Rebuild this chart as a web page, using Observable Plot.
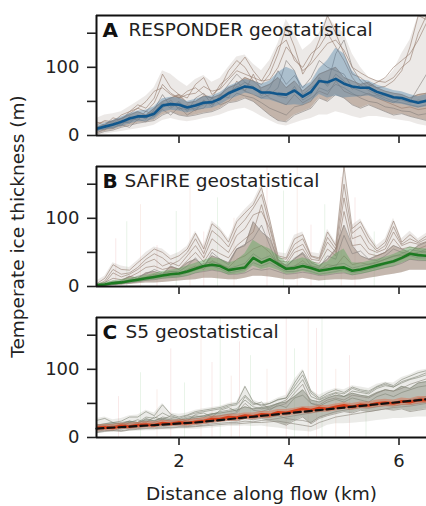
<!DOCTYPE html>
<html><head><meta charset="utf-8">
<script src="https://cdn.jsdelivr.net/npm/d3@7"></script>
<script src="https://cdn.jsdelivr.net/npm/@observablehq/plot@0.6"></script>
<style>
body{margin:0;background:#fff;font-family:"DejaVu Sans",sans-serif;}
#c svg{display:block;overflow:visible;background:none !important;}
</style>
</head><body><div id="c"></div>
<script>
// distance along flow (km)
const dist = [0.5,0.65,0.8,0.95,1.1,1.25,1.4,1.55,1.7,1.85,2.0,2.15,2.3,2.45,2.6,2.75,2.9,3.05,3.2,3.35,3.5,3.65,3.8,3.95,4.1,4.25,4.4,4.55,4.7,4.85,5.0,5.15,5.3,5.45,5.6,5.75,5.9,6.05,6.2,6.35,6.5];
const yTicks = [0,50,100,150];
const xTicks = [2,4,6];

// Panel A: RESPONDER
const meanA = [10,13,16,20,25,28,28,32,44,46, 45,41,44,48,49,54,62,67,72,70, 63,63,61,60,66,57,64,80,78,83, 76,72,70,70,64,60,56,55,51,48,51];
const bandLoA = [5,8,10,13,17,20,20,24,34,37, 36,33,36,39,40,45,52,57,62,60, 53,52,48,44,45,44,50,60,55,58, 55,56,57,58,54,50,47,46,43,40,42];
const bandHiA = [14,18,22,27,32,36,37,42,54,56, 55,50,53,57,58,63,72,77,82,80, 75,80,92,100,95,72,78,98,110,128, 120,95,82,80,74,70,66,64,60,57,60];
const envLoA = [0,2,4,6,8,10,12,15,22,25, 22,20,22,25,27,30,35,38,40,35, 28,22,16,14,18,22,25,30,30,35, 32,28,25,28,28,26,24,22,20,16,14];
const envHiA = [25,30,32,35,42,50,58,70,95,90, 80,72,82,88,78,84,100,115,118,105, 95,110,135,170,150,125,135,150,176,160, 150,120,100,85,80,82,95,120,140,176,176];
const rA1 = [15,22,20,30,35,45,40,55,90,70, 60,55,75,85,60,70,95,110,100,80, 75,90,120,160,130,90,110,140,176,150, 120,90,85,75,70,72,80,95,130,176,170];
const rA2 = [2,6,8,12,15,18,20,22,30,35, 30,28,30,33,35,40,48,50,55,50, 40,30,22,20,30,35,40,55,50,60, 55,45,40,45,40,35,30,32,28,25,22];
const rA3 = [12,16,22,25,30,35,30,40,50,55, 60,48,50,58,55,60,70,75,85,80, 70,75,85,70,80,65,75,90,95,100, 85,80,75,78,70,65,62,60,55,60,62];
const rA4 = [8,10,14,18,22,25,30,35,45,48, 40,38,40,45,50,52,60,72,65,60, 55,60,70,110,95,60,70,80,75,120, 140,100,80,70,60,55,50,48,45,42,45];
const rA5 = [18,20,18,25,32,40,50,65,70,60, 55,65,70,60,55,75,85,100,115,95, 80,100,130,140,110,100,120,130,150,130, 110,85,70,72,78,85,100,110,120,140,165];
const rA6 = [6,14,10,18,20,30,24,38,60,42, 50,35,55,62,45,58,75,90,78,72, 58,70,95,75,88,70,85,110,100,95, 90,70,65,60,58,52,48,55,50,70,90];
const rA7 = [12,8,18,14,28,22,36,28,40,52, 38,45,36,52,42,60,55,80,65,90, 65,55,50,45,60,48,55,65,60,80, 65,60,58,62,55,50,45,40,42,38,40];
const rA8 = [4,9,12,16,12,24,20,30,38,30, 42,30,38,40,55,45,50,62,58,55, 48,40,35,30,42,45,50,70,65,75, 70,62,55,50,48,42,40,36,35,30,32];
const rA9 = [20,15,26,22,35,40,35,48,75,62, 55,60,62,72,65,68,82,95,90,85, 80,82,100,130,115,95,105,120,135,140, 125,100,92,85,80,78,85,100,110,150,176];
const rA10 = [9,12,15,22,18,28,26,35,48,40, 48,42,46,50,46,56,64,70,78,68, 62,65,58,55,72,52,60,85,72,90, 80,68,74,66,60,58,54,52,48,52,50];

// Panel B: SAFIRE
const meanB = [2,3,5,6,8,10,12,14,16,18, 19,22,26,30,32,30,24,26,28,42, 35,40,33,26,27,30,27,23,25,27, 28,23,25,28,31,34,37,42,48,46,45];
const bandLoB = [0,1,2,3,5,6,8,9,11,12, 13,15,19,22,24,22,17,18,20,30, 25,28,24,18,19,22,19,16,17,19, 20,16,18,20,23,26,29,34,39,38,37];
const bandHiB = [4,6,8,10,12,14,16,19,22,24, 26,30,34,38,42,40,34,38,48,68, 60,55,45,36,38,42,38,32,36,48, 55,35,34,37,40,43,47,52,58,56,55];
const envLoB = [0,0,1,2,3,4,5,5,6,7, 8,9,10,12,12,11,10,10,12,15, 15,14,12,10,10,12,10,8,9,10, 10,9,10,12,14,16,18,20,24,24,24];
const envHiB = [8,15,35,30,28,38,50,58,55,45, 50,59,81,60,96,86,70,99,113,125, 150,103,50,48,75,80,50,48,84,65, 176,90,99,78,60,70,100,70,81,70,78];
const rB1 = [4,12,32,25,24,35,45,55,50,40, 45,55,78,55,92,82,65,95,108,120, 145,98,45,42,70,76,45,42,80,60, 176,85,95,72,55,65,96,65,76,66,74];
const rB2 = [1,3,5,8,15,12,20,22,18,30, 25,35,40,30,45,40,35,55,60,95, 80,70,40,30,40,50,35,30,40,55, 90,60,45,40,45,50,60,55,50,60,65];
const rB3 = [2,5,20,14,18,25,35,40,30,35, 30,45,60,42,70,60,50,75,85,105, 110,85,38,36,55,62,40,38,65,50, 130,70,75,55,50,55,80,60,65,62,66];
const rB4 = [1,2,3,5,6,8,10,12,14,15, 16,20,24,28,30,26,20,22,25,35, 30,35,28,22,22,25,22,18,20,22, 25,20,22,25,28,32,35,40,45,42,42];
const rB5 = [2,6,12,10,14,20,28,30,25,28, 26,38,50,36,55,48,42,60,70,80, 120,75,35,32,50,55,36,34,55,45, 110,60,62,48,45,50,70,55,58,55,60];
const rB6 = [1,4,8,6,10,15,18,25,20,22, 22,30,42,28,50,40,32,55,62,70, 90,60,30,28,42,48,30,28,45,40, 75,48,52,40,38,45,55,50,48,50,55];
const rB7 = [3,2,6,4,8,12,14,18,15,20, 18,25,30,25,38,32,28,40,45,55, 60,50,32,24,30,38,28,24,32,30, 45,32,35,32,35,40,45,45,50,48,52];
const rB8 = [1,3,4,6,9,11,13,16,18,22, 20,24,28,34,36,33,26,30,34,48, 40,45,36,28,30,34,30,26,28,32, 34,27,30,33,36,40,44,48,54,52,50];
const rB9 = [2,8,25,18,20,28,40,48,42,32, 38,50,70,48,82,72,58,85,98,115, 135,90,42,40,62,70,44,40,72,55, 150,78,88,65,52,60,88,62,70,64,70];
const rB10 = [0,2,3,4,5,7,9,10,12,13, 14,16,20,22,24,22,18,18,20,26, 24,26,22,18,19,21,19,16,17,19, 20,17,19,22,25,28,30,34,40,38,38];
const spikeBX = [0.85,1.05,1.3,1.6,1.95,2.2,2.45,2.7,3.0,3.6,3.9,4.15,4.4,4.65,4.95,5.2,5.55];
const spikeBTop = [70,95,120,60,110,150,80,130,100,176,140,176,90,120,160,130,80];

// Panel C: S5
const meanC = [14,15,14,17,16,18,19,18,21,20, 22,21,23,24,27,27,30,29,32,31, 34,33,37,36,39,42,40,43,42,45, 47,45,48,47,50,51,50,53,52,55,55];
const bandLoC = [9,10,10,12,12,13,14,14,16,16, 17,17,18,19,21,22,24,24,26,26, 28,28,31,31,33,35,35,37,37,39, 41,40,42,42,44,45,45,47,47,49,50];
const bandHiC = [18,19,19,21,21,22,23,23,25,25, 26,26,27,29,31,32,34,34,36,36, 38,38,41,41,43,45,45,47,47,49, 51,50,52,52,55,56,55,58,57,60,60];
const trendX = [0.5,2.3,6.5];
const trendC = [13,22,56];
const envLoC = [6,7,8,8,9,9,10,10,11,11, 12,12,12,13,14,15,16,16,17,16, 17,15,14,12,10,9,8,12,18,20, 20,21,22,23,25,26,28,28,29,30,30];
const envHiC = [28,30,26,28,32,33,40,36,50,36, 34,36,40,42,44,46,50,52,76,55, 50,52,58,62,85,100,70,62,68,72, 70,76,74,72,78,81,80,88,92,98,100];
const rC1 = [25,28,22,24,30,30,38,32,48,34, 30,33,38,40,42,44,48,50,75,52, 46,50,55,58,80,98,68,58,65,70, 66,74,70,68,75,80,76,85,90,95,98];
const rC2 = [10,12,13,12,15,14,16,18,16,17, 18,17,19,20,22,24,25,24,28,26, 28,25,22,18,25,30,20,28,32,35, 38,36,40,38,40,42,40,42,38,40,42];
const rC3 = [18,20,22,20,24,22,26,25,28,26, 25,28,30,32,35,36,38,40,45,42, 44,46,50,52,60,70,55,52,58,62, 60,65,62,60,66,70,68,75,72,80,82];
const rC4 = [8,10,11,10,12,13,14,15,14,15, 16,16,17,18,20,21,22,22,24,23, 25,26,28,30,32,34,36,38,40,42, 44,45,46,46,48,50,50,52,55,58,60];
const rC5 = [15,17,16,20,22,20,28,24,30,28, 26,30,32,30,34,38,40,42,55,45, 42,44,50,55,70,85,60,55,60,65, 60,68,66,64,72,76,74,80,85,88,92];
const rC6 = [12,16,14,18,20,18,24,22,26,24, 22,26,28,26,30,32,34,36,50,40, 38,42,46,50,65,78,50,48,55,58, 55,62,60,58,65,70,68,72,78,82,86];
const rC7 = [20,14,18,16,22,26,22,30,26,32, 28,24,34,36,30,40,44,38,60,48, 52,40,48,44,58,62,50,46,52,56, 52,58,55,52,60,64,60,66,70,74,76];
const rC8 = [9,11,10,14,13,15,17,16,18,19, 19,20,21,22,24,25,27,28,30,29, 30,30,32,28,26,25,22,30,34,38, 40,42,44,43,45,47,46,48,48,50,52];
const rC9 = [16,18,20,22,24,22,30,28,36,30, 28,32,36,38,40,42,46,48,62,50, 48,50,56,58,75,92,65,56,62,66, 64,72,68,66,74,78,74,82,86,90,95];
const rC10 = [7,9,10,9,11,12,13,13,14,14, 15,15,16,17,18,19,20,20,21,22, 22,23,24,22,20,18,16,22,26,30, 32,34,36,38,40,42,44,45,46,48,50];
const spikeCX = [0.9,1.3,1.6,1.85,2.1,2.4,2.6,2.75,2.95,3.1,3.3,3.6,3.95,4.1,4.35,4.5,4.6,4.85,5.1,5.4];
const spikeCTop = [60,95,70,130,80,150,110,176,90,140,120,100,176,130,176,160,176,100,120,70];

const YMAX = 176;
const pts = ys => dist.map((x, i) => ({x, y: ys[i]}));
const rng = (lo, hi) => dist.map((x, i) => ({x, lo: lo[i], hi: hi[i]}));
const spikes = (xs, tops) => xs.map((x, i) => ({x, top: tops[i], k: i % 3}));

function panel(o) {
  const marks = [];
  if (o.spikes) marks.push(Plot.ruleX(o.spikes, {x: "x", y1: 0, y2: "top", stroke: d => ["#e39a9a","#9ccc9c","#e6b0a0"][d.k], strokeOpacity: 0.22, strokeWidth: 1, clip: true}));
  marks.push(
    Plot.areaY(rng(o.envLo, o.envHi), {x: "x", y1: "lo", y2: "hi", fill: o.envFill, fillOpacity: 0.22, clip: true}),
    Plot.areaY(rng(o.coreLo, o.coreHi), {x: "x", y1: "lo", y2: "hi", fill: o.coreFill, fillOpacity: 0.5, clip: true}),
    ...o.reals.map((r, j) => Plot.lineY(pts(r), {x: "x", y: "y", stroke: o.lineColors[j % 2], strokeOpacity: 0.6, strokeWidth: 1, clip: true})),
    Plot.areaY(rng(o.bandLo, o.bandHi), {x: "x", y1: "lo", y2: "hi", fill: o.bandFill, fillOpacity: 0.4, clip: true}),
    Plot.lineY(pts(o.mean), {x: "x", y: "y", stroke: o.meanColor, strokeWidth: o.meanWidth, clip: true})
  );
  if (o.trend) marks.push(Plot.lineY(o.trend.x.map((x, i) => ({x, y: o.trend.y[i]})), {x: "x", y: "y", stroke: "#111", strokeWidth: 2.2, strokeDasharray: "7,4"}));
  marks.push(
    Plot.ruleX([0.5], {stroke: "#111", strokeWidth: 2}),
    Plot.ruleY([0], {stroke: "#111", strokeWidth: 2}),
    Plot.ruleY([YMAX], {stroke: "#111", strokeWidth: 2}),
    Plot.axisY({ticks: yTicks, tickSize: 9, tickPadding: 8, fontSize: 18, strokeWidth: 1.6, tickFormat: d => d % 100 === 0 ? String(d) : "", label: null}),
    Plot.axisX({ticks: xTicks, tickSize: 8, tickPadding: 9, fontSize: 18, strokeWidth: 1.6, tickFormat: o.bottom ? d => String(d) : () => "", label: null}),
    Plot.text([o.letter], {text: d => d, frameAnchor: "top-left", dx: 6, dy: 7, fontSize: 20, fontWeight: "bold", fill: "#111"}),
    Plot.text([o.name], {text: d => d, frameAnchor: "top-left", dx: o.nameDx, dy: 7, fontSize: 18.5, fill: "#222"})
  );
  if (o.ylabel) marks.push(Plot.text([o.ylabel], {text: d => d, frameAnchor: "left", dx: -78, rotate: -90, textAnchor: "middle", fontSize: 18.5, fill: "#222"}));
  if (o.xlabel) marks.push(Plot.text([o.xlabel], {text: d => d, frameAnchor: "bottom", lineAnchor: "top", dy: 49, fontSize: 18.5, fill: "#222"}));
  return Plot.plot({
    width: 426,
    height: 15 + 120 + (o.bottom ? 69 : 16),
    marginLeft: 96, marginRight: 0, marginTop: 15, marginBottom: o.bottom ? 69 : 16,
    style: {fontFamily: "DejaVu Sans", color: "#222", background: "none", overflow: "visible"},
    x: {domain: [0.5, 6.5]},
    y: {domain: [0, YMAX]},
    marks
  });
}

const c = document.getElementById("c");
c.append(panel({letter: "A", name: "RESPONDER geostatistical", nameDx: 32,
  mean: meanA, bandLo: bandLoA, bandHi: bandHiA, envLo: envLoA, envHi: envHiA,
  coreLo: rA2, coreHi: rA3, reals: [rA1, rA2, rA3, rA4, rA5, rA6, rA7, rA8, rA9, rA10],
  envFill: "#a89a90", coreFill: "#9a806e", lineColors: ["#967c6c", "#857f7b"], bandFill: "#4a80a8", meanColor: "#11578c", meanWidth: 2.6}));
c.append(panel({letter: "B", name: "SAFIRE geostatistical", nameDx: 28,
  mean: meanB, bandLo: bandLoB, bandHi: bandHiB, envLo: envLoB, envHi: envHiB,
  coreLo: envLoB, coreHi: rB2, reals: [rB1, rB2, rB3, rB4, rB5, rB6, rB7, rB8, rB9, rB10], spikes: spikes(spikeBX, spikeBTop),
  envFill: "#aa9a92", coreFill: "#9c8676", lineColors: ["#967e72", "#88827e"], bandFill: "#56a256", meanColor: "#1d7a22", meanWidth: 2.6,
  ylabel: "Temperate ice thickness (m)"}));
c.append(panel({letter: "C", name: "S5 geostatistical", nameDx: 29,
  mean: meanC, bandLo: bandLoC, bandHi: bandHiC, envLo: envLoC, envHi: envHiC,
  coreLo: rC2, coreHi: rC3, reals: [rC1, rC2, rC3, rC4, rC5, rC6, rC7, rC8, rC9, rC10], spikes: spikes(spikeCX, spikeCTop),
  envFill: "#a3a596", coreFill: "#8a8e7e", lineColors: ["#818676", "#8b867c"], bandFill: "#e0603c", meanColor: "#d8401c", meanWidth: 2.8,
  trend: {x: trendX, y: trendC}, bottom: true, xlabel: "Distance along flow (km)"}));
</script>
</body></html>
